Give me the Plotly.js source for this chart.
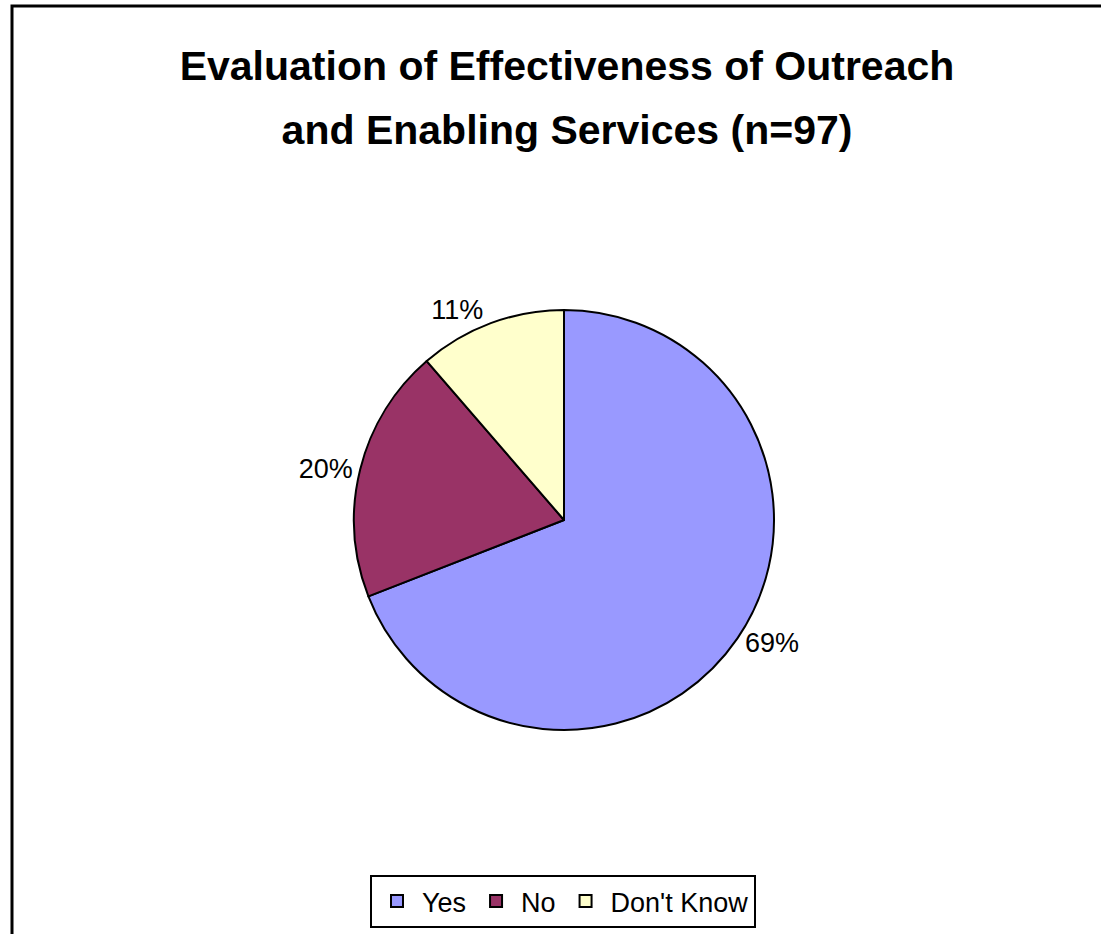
<!DOCTYPE html>
<html>
<head>
<meta charset="utf-8">
<script src="https://cdn.plot.ly/plotly-3.0.1.min.js"></script>
<style>html,body{margin:0;padding:0;background:#fff}#chart{width:1101px;height:934px}</style>
</head>
<body>
<div id="chart"></div>
<script>
const categories = ["Yes", "No", "Don't Know"];
const counts = [67, 19, 11];
const sliceColors = ["#9999FF", "#993366", "#FFFFCC"];
const titleLines = ["Evaluation of Effectiveness of Outreach", "and Enabling Services (n=97)"];

const W = 1101, H = 934;
const cx = 564, cy = 520, r = 210;

const trace = {
  type: 'pie',
  labels: categories,
  values: counts,
  sort: false,
  direction: 'clockwise',
  rotation: 0,
  marker: {colors: sliceColors, line: {color: '#000', width: 2}},
  textinfo: 'percent',
  texttemplate: '%{percent:.0%}',
  textposition: 'outside',
  textfont: {family: 'Liberation Sans, Arial, sans-serif', size: 27, color: '#000'},
  hoverinfo: 'label+value+percent',
  domain: {x: [(cx - r) / W, (cx + r) / W], y: [(H - cy - r) / H, (H - cy + r) / H]}
};

const layout = {
  width: W, height: H,
  margin: {l: 0, r: 0, t: 0, b: 0},
  paper_bgcolor: '#fff',
  font: {family: 'Liberation Sans, Arial, sans-serif', color: '#000'},
  title: {
    text: titleLines.map(t => '<span style="font-size:41px">' + t + '</span>').join('<br>'),
    font: {family: 'Liberation Sans, Arial, sans-serif', size: 49, color: '#000', weight: 'bold'},
    x: 567 / W, xanchor: 'center', y: 0.914, yanchor: 'top'
  },
  showlegend: true,
  legend: {
    orientation: 'h', x: 563 / W, xanchor: 'center', y: 6 / H, yanchor: 'bottom',
    bordercolor: '#000', borderwidth: 2, bgcolor: '#fff',
    font: {family: 'Liberation Sans, Arial, sans-serif', size: 27, color: '#000'},
    itemwidth: 40,
    traceorder: 'normal'
  },
  shapes: [{
    type: 'rect', xref: 'paper', yref: 'paper',
    x0: 12 / W, x1: 1.02, y0: -0.02, y1: (H - 6) / H,
    line: {color: '#000', width: 3}
  }]
};

Plotly.newPlot('chart', [trace], layout, {displayModeBar: false, staticPlot: true});
</script>
</body>
</html>
